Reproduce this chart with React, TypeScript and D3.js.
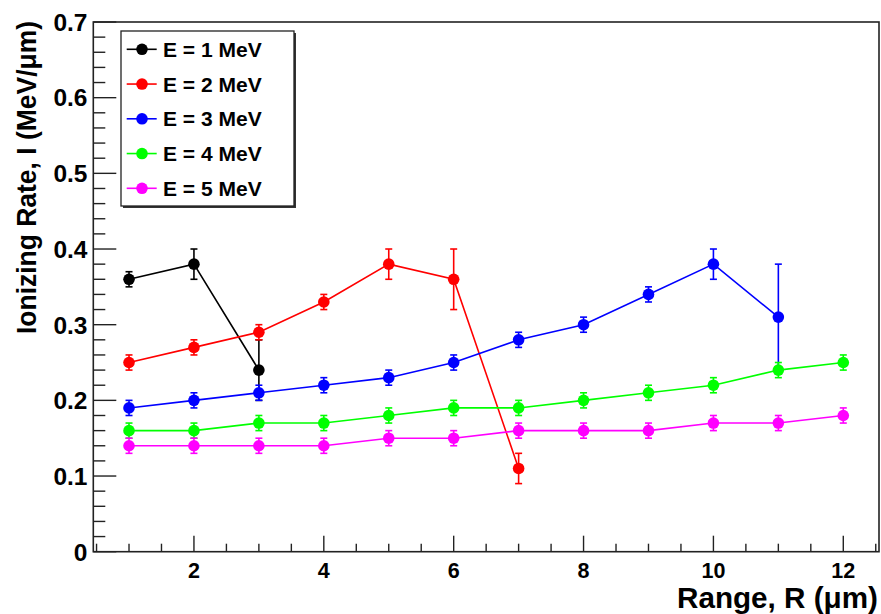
import React from "react";
import * as d3 from "d3";

const rangeValues = [1, 2, 3, 4, 5, 6, 7, 8, 9, 10, 11, 12];
const seriesNames = ["E = 1 MeV", "E = 2 MeV", "E = 3 MeV", "E = 4 MeV", "E = 5 MeV"];
const seriesColors = ["#000000", "#ff0000", "#0000ff", "#00ff00", "#ff00ff"];

const e1Values = [0.36, 0.38, 0.24];
const e1Errors = [0.01, 0.02, 0.04];
const e2Values = [0.25, 0.27, 0.29, 0.33, 0.38, 0.36, 0.11];
const e2Errors = [0.01, 0.01, 0.01, 0.01, 0.02, 0.04, 0.02];
const e3Values = [0.19, 0.2, 0.21, 0.22, 0.23, 0.25, 0.28, 0.3, 0.34, 0.38, 0.31];
const e3Errors = [0.01, 0.01, 0.01, 0.01, 0.01, 0.01, 0.01, 0.01, 0.01, 0.02, 0.07];
const e4Values = [0.16, 0.16, 0.17, 0.17, 0.18, 0.19, 0.19, 0.2, 0.21, 0.22, 0.24, 0.25];
const e4Errors = [0.01, 0.01, 0.01, 0.01, 0.01, 0.01, 0.01, 0.01, 0.01, 0.01, 0.01, 0.01];
const e5Values = [0.14, 0.14, 0.14, 0.14, 0.15, 0.15, 0.16, 0.16, 0.16, 0.17, 0.17, 0.18];
const e5Errors = [0.01, 0.01, 0.01, 0.01, 0.01, 0.01, 0.01, 0.01, 0.01, 0.01, 0.01, 0.01];

const xTickLabels = ["2", "4", "6", "8", "10", "12"];
const yTickLabels = ["0", "0.1", "0.2", "0.3", "0.4", "0.5", "0.6", "0.7"];

const xTitle = "Range, R (\u03bcm)";
const yTitle = "Ionizing Rate, I (MeV/\u03bcm)";

const allValues = [e1Values, e2Values, e3Values, e4Values, e5Values];
const allErrors = [e1Errors, e2Errors, e3Errors, e4Errors, e5Errors];

const W = 881;
const H = 614;
const FL = 93.3;
const FR = 879;
const FT = 22;
const FB = 551.7;
const FONT = "'Liberation Sans', Arial, Helvetica, sans-serif";
const AXIS = "#222";

export default function App() {
  const x = d3.scaleLinear().domain([0.45, 12.55]).range([FL, FR]);
  const y = d3.scaleLinear().domain([0, 0.7]).range([FB, FT]);

  const xMinor = d3.range(0.5, 12.51, 0.5).filter((v) => Math.abs(v % 2) > 1e-6);
  const yMinor = d3.range(0.02, 0.7, 0.02).filter((v) => Math.abs(Math.round(v * 10) - v * 10) > 1e-6);

  const line = d3
    .line<[number, number]>()
    .x((d) => x(d[0]))
    .y((d) => y(d[1]));

  const legendRows = seriesNames.map((n, i) => 49.3 + i * 34.75);

  return (
    <svg
      width={W}
      height={H}
      style={{ position: "absolute", left: 0, top: 0, background: "#fff" }}
      fontFamily={FONT}
    >
      <rect x={0} y={0} width={W} height={H} fill="#fff" />

      {/* series */}
      {allValues.map((vals, si) => {
        const pts: [number, number][] = vals.map((v, i) => [rangeValues[i], v]);
        const errs = allErrors[si];
        const c = seriesColors[si];
        return (
          <g key={si}>
            <path d={line(pts) || ""} fill="none" stroke={c} strokeWidth={1.6} />
            {pts.map((p, i) => {
              const px = x(p[0]);
              const top = y(p[1] + errs[i]);
              const bot = y(p[1] - errs[i]);
              return (
                <g key={i}>
                  <line x1={px} x2={px} y1={top} y2={bot} stroke={c} strokeWidth={1.6} />
                  <line x1={px - 3.5} x2={px + 3.5} y1={top} y2={top} stroke={c} strokeWidth={1.6} />
                  <line x1={px - 3.5} x2={px + 3.5} y1={bot} y2={bot} stroke={c} strokeWidth={1.6} />
                  <circle cx={px} cy={y(p[1])} r={5.8} fill={c} />
                </g>
              );
            })}
          </g>
        );
      })}

      {/* frame */}
      <rect x={FL} y={FT} width={FR - FL} height={FB - FT} fill="none" stroke={AXIS} strokeWidth={1.6} />

      {/* y ticks */}
      {yTickLabels.map((t, i) => {
        const v = +t;
        return (
          <g key={"y" + i}>
            <line x1={FL} x2={FL + 23} y1={y(v)} y2={y(v)} stroke={AXIS} strokeWidth={1.4} />
            <text
              x={87.5}
              y={y(v)}
              dy="0.36em"
              textAnchor="end"
              fontSize={24.5}
              fontWeight="bold"
              fill="#000"
            >
              {t}
            </text>
          </g>
        );
      })}
      {yMinor.map((v, i) => (
        <line key={"ym" + i} x1={FL} x2={FL + 12} y1={y(v)} y2={y(v)} stroke={AXIS} strokeWidth={1.4} />
      ))}

      {/* x ticks */}
      {xTickLabels.map((t, i) => {
        const v = +t;
        return (
          <g key={"x" + i}>
            <line x1={x(v)} x2={x(v)} y1={FB} y2={FB - 16} stroke={AXIS} strokeWidth={1.4} />
            <text x={x(v)} y={577.5} textAnchor="middle" fontSize={21.5} fontWeight="bold" fill="#000">
              {t}
            </text>
          </g>
        );
      })}
      {xMinor.map((v, i) => (
        <line key={"xm" + i} x1={x(v)} x2={x(v)} y1={FB} y2={FB - 8} stroke={AXIS} strokeWidth={1.4} />
      ))}

      {/* axis titles */}
      <text
        x={878}
        y={607.5}
        textAnchor="end"
        fontSize={29}
        fontWeight="bold"
        fill="#000"
        textLength={201}
        lengthAdjust="spacingAndGlyphs"
      >
        {xTitle}
      </text>
      <text
        transform={`translate(36, 21) rotate(-90)`}
        textAnchor="end"
        fontSize={28}
        fontWeight="bold"
        fill="#000"
        textLength={313}
        lengthAdjust="spacingAndGlyphs"
      >
        {yTitle}
      </text>

      {/* legend */}
      <rect x={123} y={33} width={173} height={175} fill="#333" />
      <rect x={121} y={31} width={173} height={175} fill="#fff" stroke={AXIS} strokeWidth={1.3} />
      {seriesNames.map((n, i) => {
        const cy = legendRows[i];
        const c = seriesColors[i];
        return (
          <g key={"l" + i}>
            <line x1={126.7} x2={156.7} y1={cy} y2={cy} stroke={c} strokeWidth={1.6} />
            <circle cx={142} cy={cy} r={5.8} fill={c} />
            <text x={163} y={cy} dy="0.36em" fontSize={21} fontWeight="bold" fill="#000">
              {n}
            </text>
          </g>
        );
      })}
    </svg>
  );
}
